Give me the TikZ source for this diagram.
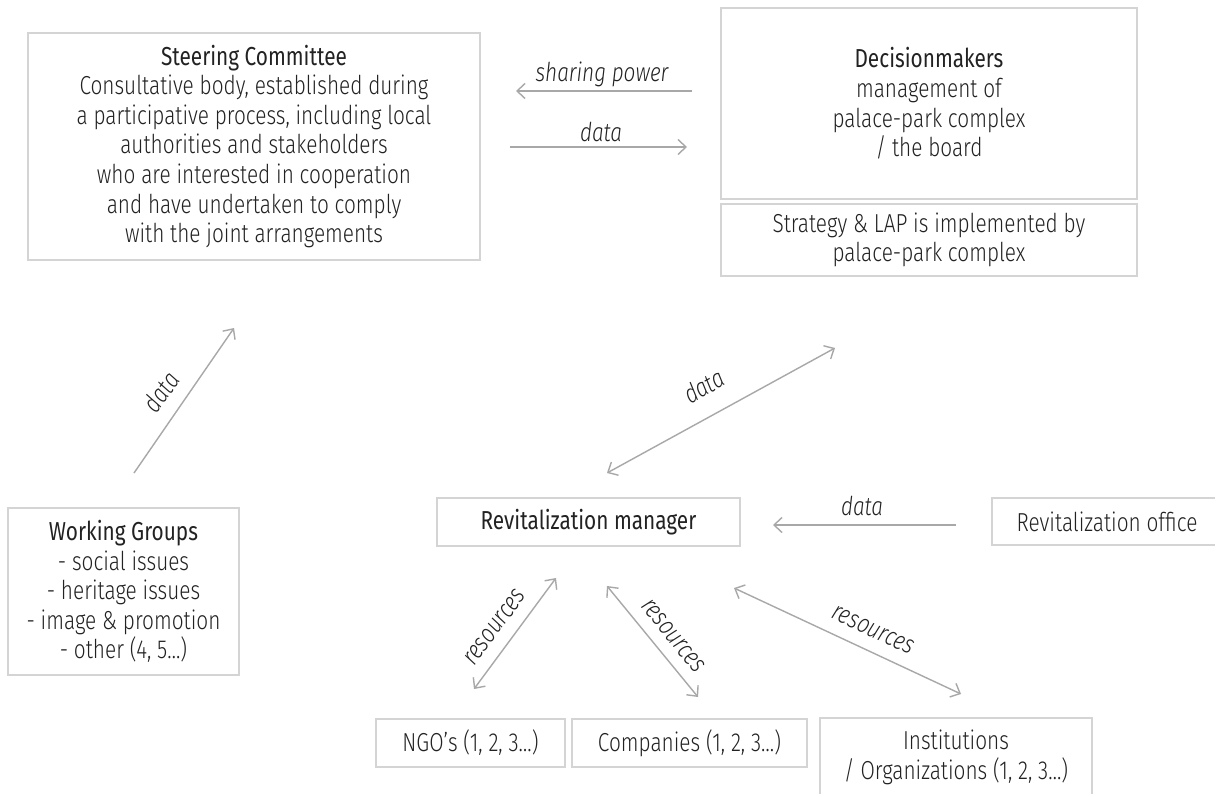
\documentclass[tikz,border=0pt]{standalone}
\usepackage{fontspec}
\setmainfont{Fira Sans Light}[BoldFont={Fira Sans}, ItalicFont={Fira Sans Light Italic}, FakeStretch=0.8]
\usetikzlibrary{arrows.meta}
\definecolor{boxc}{HTML}{D4D4D4}
\definecolor{arrc}{HTML}{A8A8A8}
\definecolor{txt}{HTML}{222222}
\begin{document}
\begin{tikzpicture}[x=1pt,y=-1pt,
  box/.style={draw=boxc, line width=1.5pt, inner sep=0pt, align=center, text=txt,
    font=\fontsize{26}{29.6}\selectfont},
  conn/.style={draw=arrc, line width=1.4pt,
    -{Straight Barb[length=8pt,width=15pt,line width=1.4pt]}},
  biconn/.style={draw=arrc, line width=1.4pt,
    {Straight Barb[length=8pt,width=15pt,line width=1.4pt]}-{Straight Barb[length=8pt,width=15pt,line width=1.4pt]}},
  lab/.style={text=txt, inner sep=0pt, font=\fontsize{26}{28}\selectfont\itshape}]
\useasboundingbox[fill=white] (0,0) rectangle (1215,794);

% boxes
\node[box, minimum width=452pt, minimum height=227pt] (sc) at (254,146.5)
  {{\bfseries Steering Committee}\\Consultative body, established during\\a participative process, including local\\authorities and stakeholders\\who are interested in cooperation\\and have undertaken to comply\\with the joint arrangements};
\node[box, minimum width=416pt, minimum height=191pt] (dm) at (929,103.5)
  {{\bfseries Decisionmakers}\\management of\\palace-park complex\\/ the board};
\node[box, minimum width=416pt, minimum height=72pt] (st) at (929,240)
  {Strategy \& LAP is implemented by\\palace-park complex};
\node[box, minimum width=231pt, minimum height=167pt] (wg) at (123.5,591.5)
  {{\bfseries Working Groups}\\- social issues\\- heritage issues\\- image \& promotion\\- other (4, 5\dots)};
\node[box, minimum width=303pt, minimum height=48pt] (rm) at (588.5,522)
  {{\bfseries Revitalization manager}};
\node[box, minimum width=230pt, minimum height=47pt] (ro) at (1107,521.5)
  {Revitalization office};
\node[box, minimum width=189pt, minimum height=48pt] (ngo) at (470.5,743)
  {NGO’s (1, 2, 3\dots)};
\node[box, minimum width=235pt, minimum height=48pt] (co) at (689.5,743)
  {Companies (1, 2, 3\dots)};
\node[box, minimum width=272pt, minimum height=79pt] (in) at (956,757.5)
  {Institutions\\/ Organizations (1, 2, 3\dots)};

% connector end points
\coordinate (sp1) at (692,91);   \coordinate (sp2) at (516,91);
\coordinate (d1) at (510,147);   \coordinate (d2) at (687,147);
\coordinate (w1) at (134,473);   \coordinate (w2) at (234,328);
\coordinate (m1) at (607,473);   \coordinate (m2) at (835,348);
\coordinate (o1) at (956,525);   \coordinate (o2) at (773,525);
\coordinate (n1) at (556,578);   \coordinate (n2) at (474,689);
\coordinate (c1) at (607,586);   \coordinate (c2) at (698,697);
\coordinate (i1) at (734,588);   \coordinate (i2) at (961,694);

\draw[conn] (sp1) -- (sp2);
\draw[conn] (d1) -- (d2);
\draw[conn] (w1) -- (w2);
\draw[biconn] (m1) -- (m2);
\draw[conn] (o1) -- (o2);
\draw[biconn] (n1) -- (n2);
\draw[biconn] (c1) -- (c2);
\draw[biconn] (i1) -- (i2);

% labels
\node[lab] (lsp) at (602,74) {sharing power};
\node[lab] (ld) at (601,132) {data};
\node[lab, rotate=55] (lw) at (161,392) {data};
\node[lab, rotate=28.7] (lm) at (704,386) {data};
\node[lab] (lo) at (862,506) {data};
\node[lab, rotate=53.5] (ln) at (495,627) {resources};
\node[lab, rotate=-51] (lc) at (673,636) {resources};
\node[lab, rotate=-25.2] (li) at (873,630) {resources};
\end{tikzpicture}
\end{document}
